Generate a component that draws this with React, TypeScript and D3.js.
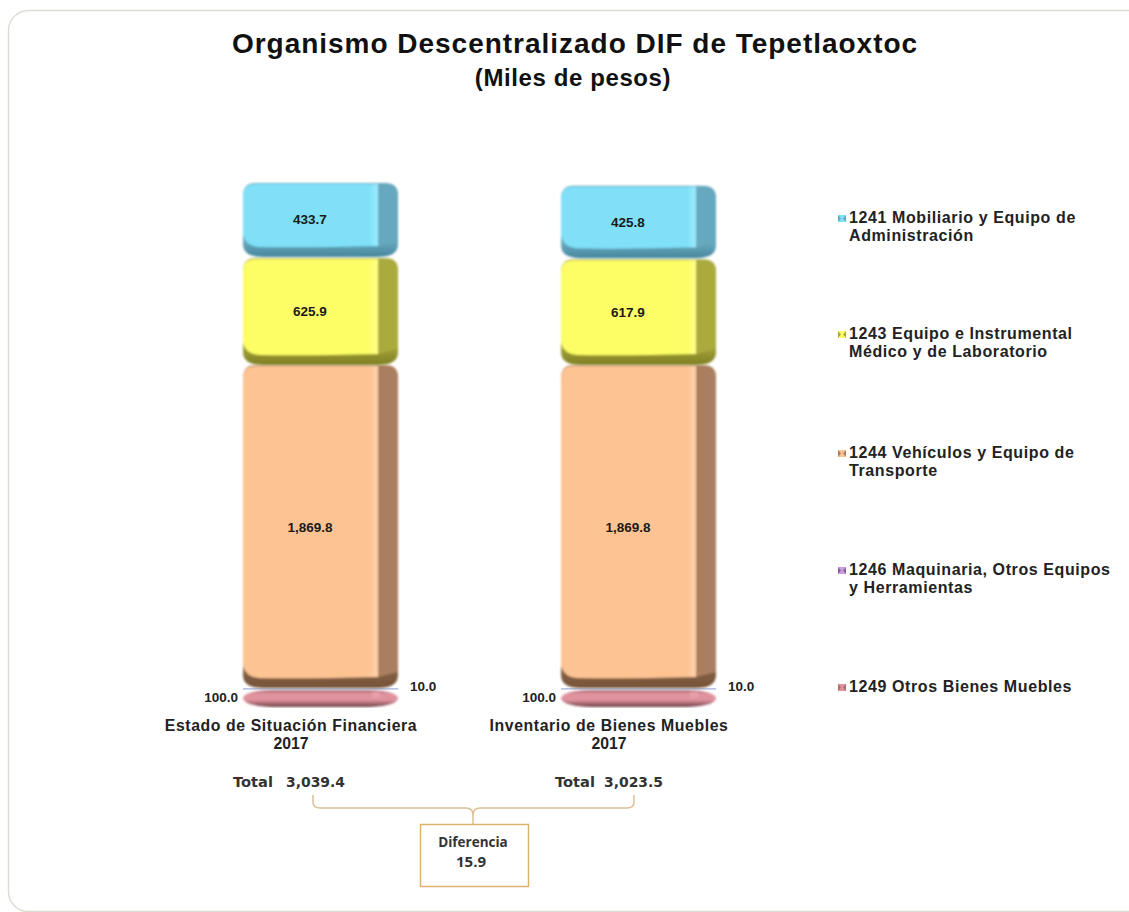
import * as d3 from "d3";
import React from "react";

const years = ["Estado de Situación Financiera", "Inventario de Bienes Muebles"];
const serieEstado = [100.0, 10.0, 1869.8, 625.9, 433.7];
const serieInventario = [100.0, 10.0, 1869.8, 617.9, 425.8];
const series = [serieEstado, serieInventario];
const totals = ["3,039.4", "3,023.5"];

const colors = ["#e0939e", "#c9a0dc", "#fdc393", "#fdfd66", "#7fe0f8"];
const sideColors = ["#a86c74", "#8a5fa0", "#aa7f5f", "#aaaa3c", "#66a8bd"];
const shadeColors = ["#6a3c44", "#7a4f90", "#76543a", "#7f7f24", "#47869c"];
const lightColors = ["#f0aab4", "#d8b8e8", "#ffd3ab", "#ffff88", "#9cecff"];

const legendLines = [
    ["1241 Mobiliario y Equipo de", "Administración"],
    ["1243 Equipo e Instrumental", "Médico y de Laboratorio"],
    ["1244 Vehículos y Equipo de", "Transporte"],
    ["1246 Maquinaria, Otros Equipos", "y Herramientas"],
    ["1249 Otros Bienes Muebles"],
];
const legendY = [218, 334, 453, 570, 687];
const legendFill = [4, 3, 2, 1, 0];

const FONT = "'Liberation Sans', Arial, sans-serif";

const x = d3.scaleBand<string>().domain(years).range([243, 716]).paddingInner(0.5126).paddingOuter(0);
const y = d3.scaleLinear().domain([0, 3039.4]).range([707, 182]);
const fmt = d3.format(",.1f");

const SIDE = 20;

// rounded block with a soft bottom lip and a darker right face
const Block = ({x0, y0, y1, i}: {x0: number; y0: number; y1: number; i: number}) => {
    const w = x.bandwidth();
    const f = x0 + w - SIDE;
    const r = 13;
    return (
        <g filter="url(#soft)">
            <path
                d={`M${x0},${y0 + r}Q${x0},${y0} ${x0 + r},${y0}H${x0 + w - r}Q${x0 + w},${y0} ${x0 + w},${y0 + r}V${y1 - r}Q${x0 + w},${y1} ${x0 + w - 20},${y1}H${x0 + 20}Q${x0},${y1} ${x0},${y1 - r}Z`}
                fill={`url(#lip${i})`}
            />
            <path
                d={`M${f},${y0 + 1}H${x0 + w - 10}Q${x0 + w},${y0 + 1} ${x0 + w},${y0 + r}V${y1 - 16}L${f},${y1 - 11}Z`}
                fill={sideColors[i]}
            />
            <path
                d={`M${x0},${y0 + r}Q${x0},${y0 + 1} ${x0 + r},${y0 + 1}H${f}V${y1 - 11}Q${x0 + 60},${y1 - 9} ${x0 + 16},${y1 - 10}Q${x0 + 3},${y1 - 11} ${x0},${y1 - 22}Z`}
                fill={colors[i]}
            />
            <rect x={f - 9} y={y0 + 1} width={9} height={y1 - y0 - 12} fill={`url(#strip${i})`} />
        </g>
    );
};

// the thin bottom segment is only a lens
const Lens = ({x0, y0, y1, i}: {x0: number; y0: number; y1: number; i: number}) => {
    const w = x.bandwidth();
    return (
        <g filter="url(#soft)">
            <rect x={x0} y={y0} width={w} height={y1 - y0} rx={30} ry={(y1 - y0) / 2} fill={`url(#lens${i})`} />
            <rect x={x0 + w - SIDE - 6} y={y0 + 2} width={8} height={6} fill={lightColors[i]} opacity={0.6} />
        </g>
    );
};

export default function App() {
    return (
        <svg width={1129} height={912} style={{position: "absolute", left: 0, top: 0, display: "block"}} fontFamily={FONT}>
            <defs>
                <filter id="soft" x="-5%" y="-5%" width="110%" height="110%">
                    <feGaussianBlur stdDeviation={0.8} />
                </filter>
                {colors.map((c, i) => (
                    <linearGradient key={i} id={`lip${i}`} x1="0" x2="0" y1="0" y2="1">
                        <stop offset="0" stopColor={sideColors[i]} />
                        <stop offset="0.8" stopColor={sideColors[i]} />
                        <stop offset="1" stopColor={shadeColors[i]} />
                    </linearGradient>
                ))}
                {colors.map((c, i) => (
                    <linearGradient key={i} id={`lens${i}`} x1="0" x2="0" y1="0" y2="1">
                        <stop offset="0" stopColor={sideColors[i]} />
                        <stop offset="0.25" stopColor={c} />
                        <stop offset="0.6" stopColor={c} />
                        <stop offset="1" stopColor={shadeColors[i]} />
                    </linearGradient>
                ))}
                {colors.map((c, i) => (
                    <linearGradient key={i} id={`strip${i}`} x1="0" x2="1" y1="0" y2="0">
                        <stop offset="0" stopColor={c} />
                        <stop offset="1" stopColor={lightColors[i]} />
                    </linearGradient>
                ))}
            </defs>
            <rect x={0} y={0} width={1129} height={912} fill="#fff" />
            <rect x={8.5} y={10.5} width={1180} height={901} rx={20} ry={20} fill="#fff" stroke="#dcdcd4" strokeWidth={1.4} />

            <text x={575} y={53} textAnchor="middle" fontSize={28} fontWeight="bold" fill="#111" letterSpacing={0.98}>Organismo Descentralizado DIF de Tepetlaoxtoc</text>
            <text x={573} y={86} textAnchor="middle" fontSize={24} fontWeight="bold" fill="#111" letterSpacing={0.6}>(Miles de pesos)</text>

            {years.map((name, s) => {
                const x0 = x(name) as number;
                const tops = d3.cumsum(series[s]);
                const cx = x0 + 67;
                return (
                    <g key={name}>
                        {series[s].map((v, i) => {
                            const yTop = y(tops[i]);
                            const yBottom = y(tops[i] - v);
                            if (i === 1) {
                                return <rect key={i} x={x0} y={yTop} width={x.bandwidth()} height={yBottom - yTop} fill="#a9b6e0" opacity={0.8} />;
                            }
                            if (i === 0) {
                                return <Lens key={i} x0={x0} y0={yTop} y1={yBottom} i={i} />;
                            }
                            return <Block key={i} x0={x0} y0={yTop + (i > 2 ? 1 : 0)} y1={yBottom} i={i} />;
                        })}
                        {series[s].map((v, i) => {
                            const mid = y(tops[i] - v / 2);
                            if (i === 0) return <text key={i} x={x0 - 5} y={mid + 4} textAnchor="end" fontSize={13.5} fontWeight="bold" fill="#222">{fmt(v)}</text>;
                            if (i === 1) return <text key={i} x={x0 + 167} y={mid + 2} fontSize={13.5} fontWeight="bold" fill="#222">{fmt(v)}</text>;
                            return <text key={i} x={cx} y={mid + 5} textAnchor="middle" fontSize={13.5} fontWeight="bold" fill="#1a1a1a">{fmt(v)}</text>;
                        })}
                        <text x={x0 + 48} y={731} textAnchor="middle" fontSize={15.8} fontWeight="bold" fill="#222" letterSpacing={0.6}>{name}</text>
                        <text x={x0 + 48} y={749} textAnchor="middle" fontSize={15.8} fontWeight="bold" fill="#222">2017</text>
                        <text x={s ? 555 : 233} y={787} fontSize={14} fontWeight="bold" fill="#333" fontFamily="'DejaVu Sans'" textLength={40} lengthAdjust="spacingAndGlyphs">Total</text>
                        <text x={s ? 604 : 286} y={787} fontSize={14} fontWeight="bold" fill="#333" fontFamily="'DejaVu Sans'" textLength={59} lengthAdjust="spacingAndGlyphs">{totals[s]}</text>
                    </g>
                );
            })}

            <path d="M313,795V802Q313,808 320,808H466Q473,808 473,815Q473,808 480,808H627Q634,808 634,802V795" fill="none" stroke="#dcbf97" strokeWidth={1.5} />
            <line x1={473} y1={814} x2={473} y2={824} stroke="#dcbf97" strokeWidth={1.5} />
            <rect x={420.5} y={824.5} width={108} height={62} fill="#fff" stroke="#e0b070" strokeWidth={1.5} />
            <text x={473} y={847} textAnchor="middle" fontSize={13.5} fontWeight="bold" fill="#333" fontFamily="'Open Sans'">Diferencia</text>
            <text x={471} y={867} textAnchor="middle" fontSize={15} fontWeight="bold" fill="#333" fontFamily="'Open Sans'">15.9</text>

            {legendLines.map((lines, i) => {
                const ly = legendY[i];
                const k = legendFill[i];
                return (
                    <g key={i}>
                        <rect x={838} y={ly - 3} width={8} height={7} fill={colors[k]} />
                        <path d={`M838,${ly - 3}L841,${ly + 0.5}L838,${ly + 4}Z`} fill={sideColors[k]} />
                        <path d={`M846,${ly - 3}L843,${ly + 0.5}L846,${ly + 4}Z`} fill={sideColors[k]} />
                        {lines.map((l, j) => (
                            <text key={j} x={849} y={ly + 5 + j * 18} fontSize={16} fontWeight="bold" fill="#222" letterSpacing={0.6}>{l}</text>
                        ))}
                    </g>
                );
            })}
        </svg>
    );
}
